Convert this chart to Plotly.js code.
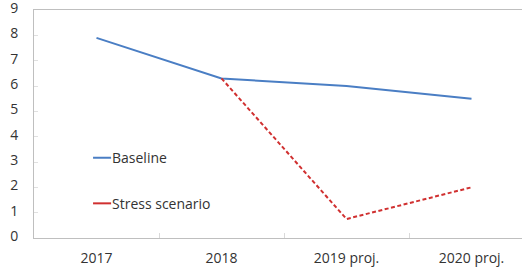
<!DOCTYPE html>
<html>
<head>
<meta charset="utf-8">
<script src="https://cdn.plot.ly/plotly-3.0.1.min.js"></script>
<style>html,body{margin:0;padding:0;background:#fff;}#chart{width:522px;height:269px;}</style>
</head>
<body>
<div id="chart"></div>
<script>
const categories = ["2017", "2018", "2019 proj.", "2020 proj."];
const baseline = [7.9, 6.3, 6.0, 5.5];
const stressCats = ["2018", "2019 proj.", "2020 proj."];
const stress = [6.3, 0.75, 2.0];
const seriesNames = ["Baseline", "Stress scenario"];
const yTicks = [0, 1, 2, 3, 4, 5, 6, 7, 8, 9];
const blue = "#4A7EC4", red = "#D03030";
const font = {family: "Open Sans, Noto Sans, sans-serif", size: 14, color: "#333333"};

const traces = [
  {x: categories, y: baseline, type: "scatter", mode: "lines", name: seriesNames[0],
   line: {color: blue, width: 2}, showlegend: false},
  {x: stressCats, y: stress, type: "scatter", mode: "lines", name: seriesNames[1],
   line: {color: red, width: 2, dash: "4px,2.5px"}, showlegend: false}
];

const legendY = [0.352, 0.152];
const legendColors = [blue, red];
const shapes = legendY.map((y, i) => ({type: "line", xref: "paper", yref: "paper",
  x0: 0.121, x1: 0.158, y0: y, y1: y, line: {color: legendColors[i], width: 2}}));
const annotations = legendY.map((y, i) => ({xref: "paper", yref: "paper", x: 0.156, y: y,
  xanchor: "left", yanchor: "middle", text: seriesNames[i], showarrow: false, font: font}));

const layout = {
  width: 522, height: 269,
  margin: {l: 34, r: 0, t: 10, b: 31},
  paper_bgcolor: "#fff", plot_bgcolor: "#fff",
  font: font,
  xaxis: {type: "category", range: [-0.5, 3.404], showgrid: false, zeroline: false,
    showline: true, linecolor: "#BFBFBF", linewidth: 1, mirror: true,
    ticks: "inside", tickson: "boundaries", ticklen: 5, tickcolor: "#D9D9D9",
    ticklabelstandoff: 7, tickfont: font},
  yaxis: {range: [0, 9.001], tickvals: yTicks, showgrid: false, zeroline: false,
    showline: true, linecolor: "#BFBFBF", linewidth: 1, ticklabeloverflow: "allow",
    ticklabelshift: -2,
    ticks: "inside", ticklen: 4, tickcolor: "#E0E0E0", ticklabelstandoff: 12, tickfont: font},
  shapes: shapes, annotations: annotations, showlegend: false
};
Plotly.newPlot("chart", traces, layout, {staticPlot: true, displayModeBar: false});
</script>
</body>
</html>
